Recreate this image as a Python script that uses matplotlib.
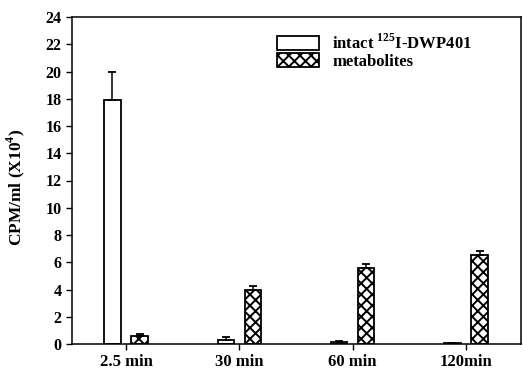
import numpy as np
import matplotlib.pyplot as plt

plt.rcParams['font.family'] = 'Liberation Serif'
plt.rcParams['font.weight'] = 'bold'
plt.rcParams['mathtext.fontset'] = 'custom'
plt.rcParams['mathtext.rm'] = 'Liberation Serif:bold'
plt.rcParams['mathtext.bf'] = 'Liberation Serif:bold'
plt.rcParams['hatch.linewidth'] = 1.4

times = ['2.5 min', '30 min', '60 min', '120min']
intact = [17.9, 0.3, 0.15, 0.05]
intact_err = [2.1, 0.2, 0.1, 0.0]
metab = [0.6, 4.0, 5.55, 6.5]
metab_err = [0.1, 0.25, 0.3, 0.3]

x = np.arange(len(times))
w = 0.145

fig = plt.figure(figsize=(5.23, 3.76), dpi=100)
ax = fig.add_axes([72/523, 32/376, 449/523, 327/376])

ax.bar(x - 0.12, intact, w, color='white', edgecolor='black', linewidth=1.3,
       yerr=[np.zeros(4), intact_err], capsize=3,
       error_kw=dict(elinewidth=1.1, capthick=1.3),
       label='intact $^{125}$I-DWP401')
ax.bar(x + 0.12, metab, w, color='white', edgecolor='black', linewidth=1.3,
       hatch='xxx', yerr=[np.zeros(4), metab_err], capsize=3,
       error_kw=dict(elinewidth=1.1, capthick=1.3),
       label='metabolites')

ax.set_xlim(-0.477, 3.486)
ax.set_ylim(0, 24)
ax.set_yticks(range(0, 25, 2))
ax.set_xticks(x)
ax.set_xticklabels(times)
ax.tick_params(axis='x', labelsize=12, direction='out', length=4, width=1)
ax.tick_params(axis='y', labelsize=11.5, direction='out', length=4, width=1)
ax.set_ylabel('CPM/ml (X10$^4$)', fontsize=12.5, fontweight='bold')
ax.yaxis.set_label_coords(-0.10, 0.48)
for s in ax.spines.values():
    s.set_linewidth(1.1)

ax.legend(loc='upper left', bbox_to_anchor=(0.442, 0.969), frameon=False,
          fontsize=12, handlelength=2.5, handleheight=0.9, labelspacing=0.0,
          handletextpad=0.8, borderaxespad=0)

plt.savefig('out.png', dpi=100)
